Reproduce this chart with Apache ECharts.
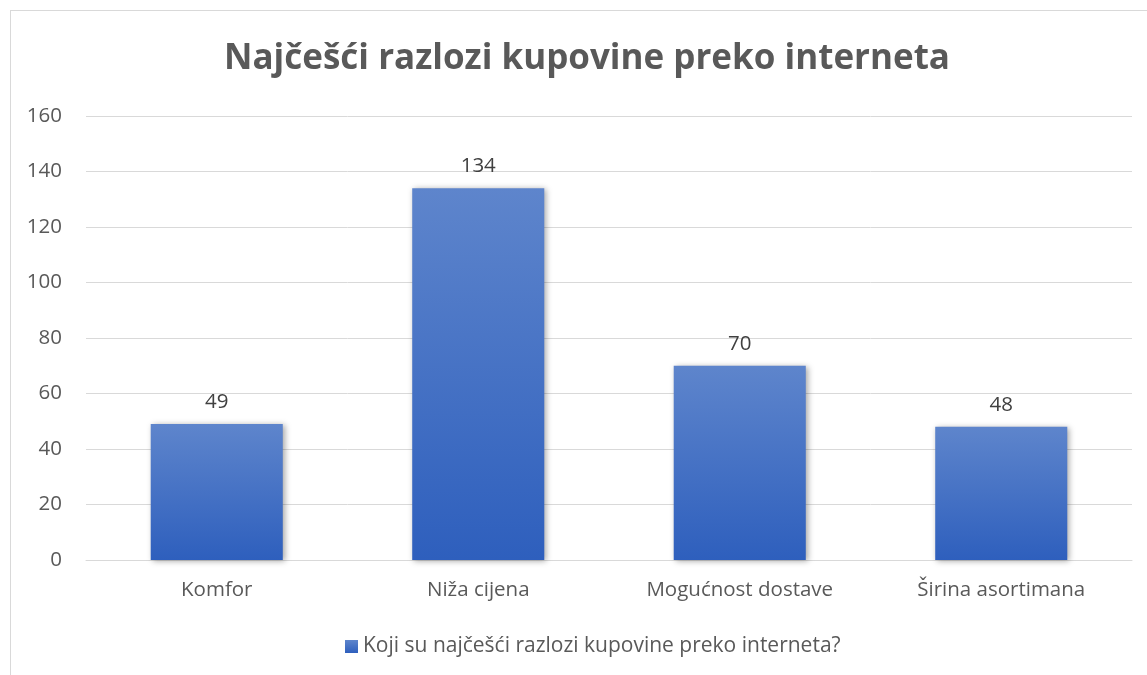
<!DOCTYPE html>
<html>
<head>
<meta charset="utf-8">
<script src="https://cdn.jsdelivr.net/npm/echarts@6/dist/echarts.min.js"></script>
<style>
  html, body { margin: 0; padding: 0; background: #fff; }
  #frame { position: absolute; left: 10px; top: 10px; width: 1160px; height: 700px; border: 1px solid #d9d9d9; box-sizing: border-box; }
  #chart { position: absolute; left: 0; top: 0; width: 1147px; height: 675px; }
</style>
</head>
<body>
<div id="frame"></div>
<div id="chart"></div>
<script>
const titleText = 'Najčešći razlozi kupovine preko interneta';
const seriesName = 'Koji su najčešći razlozi kupovine preko interneta?';
const categories = ['Komfor', 'Niža cijena', 'Mogućnost dostave', 'Širina asortimana'];
const values = [49, 134, 70, 48];
const yTicks = { min: 0, max: 160, interval: 20 };

const font = '"Open Sans", "DejaVu Sans", sans-serif';
const chart = echarts.init(document.getElementById('chart'), null, { renderer: 'canvas' });

chart.setOption({
  animation: false,
  backgroundColor: 'transparent',
  title: {
    text: titleText,
    left: 582,
    top: 37,
    textAlign: 'center',
    textStyle: { fontFamily: font, fontWeight: 'bold', fontSize: 35, color: '#595959' }
  },
  grid: { left: 86, right: 15, top: 116, bottom: 115, containLabel: false },
  legend: {
    bottom: 13,
    left: 340,
    itemWidth: 13,
    itemHeight: 13,
    icon: 'rect',
    itemGap: 6,
    textStyle: { fontFamily: font, fontSize: 21, color: '#595959' }
  },
  xAxis: {
    type: 'category',
    data: categories,
    axisLine: { lineStyle: { color: '#d9d9d9', width: 1 } },
    axisTick: { show: false },
    axisLabel: { fontFamily: font, fontSize: 20.5, color: '#595959', margin: 20 }
  },
  yAxis: {
    type: 'value',
    min: yTicks.min,
    max: yTicks.max,
    interval: yTicks.interval,
    axisLine: { show: false },
    axisTick: { show: false },
    splitLine: { lineStyle: { color: '#d9d9d9', width: 1 } },
    axisLabel: { fontFamily: font, fontSize: 20.5, color: '#595959', margin: 24 }
  },
  series: [{
    name: seriesName,
    type: 'bar',
    data: values,
    barWidth: '50.5%',
    itemStyle: {
      color: new echarts.graphic.LinearGradient(0, 0, 0, 1, [
        { offset: 0, color: '#5e85cc' },
        { offset: 1, color: '#2e5fbd' }
      ]),
      shadowColor: 'rgba(0,0,0,0.35)',
      shadowBlur: 6,
      shadowOffsetX: 2,
      shadowOffsetY: 1
    },
    label: {
      show: true,
      position: 'top',
      distance: 11,
      fontFamily: font,
      fontSize: 20.5,
      color: '#404040'
    }
  }]
});
</script>
</body>
</html>
